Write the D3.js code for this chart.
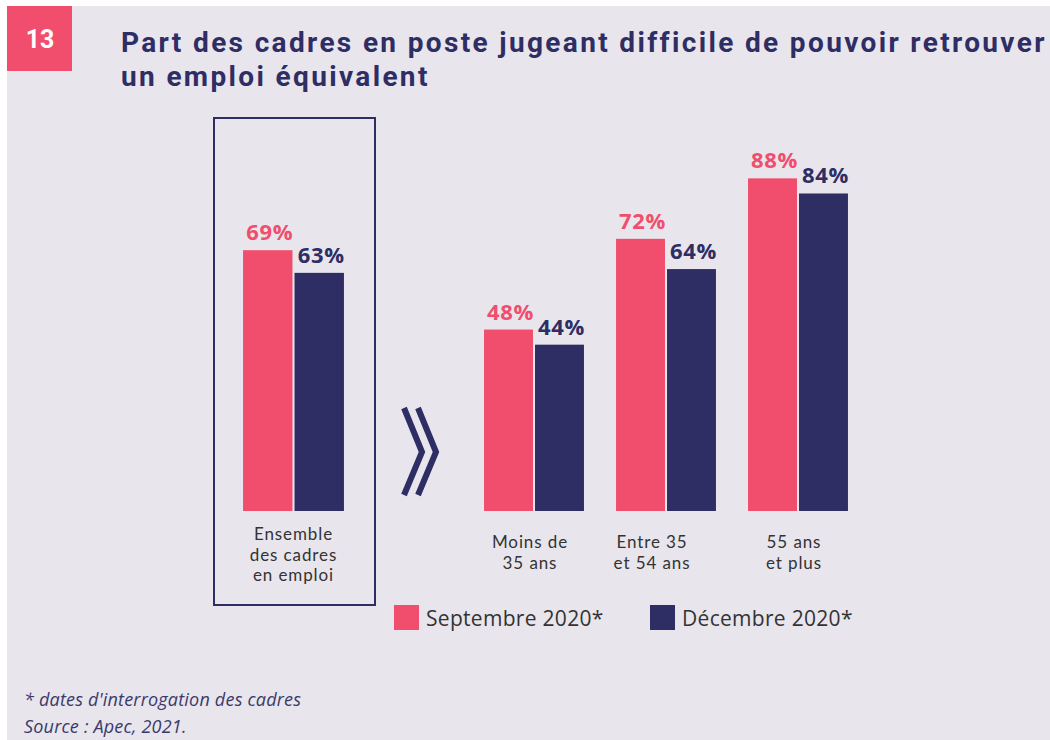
<!DOCTYPE html>
<html>
<head>
<meta charset="utf-8">
<script src="https://cdn.jsdelivr.net/npm/d3@7"></script>
<style>
  html, body { margin: 0; padding: 0; background: #fff; }
  svg { display: block; font-family: "Open Sans", Lato, sans-serif; }
</style>
</head>
<body>
<svg id="chart" width="1050" height="740"></svg>
<script>
// Data
const overallCategory = ['Ensemble des cadres en emploi'];
const ageCategories = ['Moins de 35 ans', 'Entre 35 et 54 ans', '55 ans et plus'];
const seriesNames = ['Septembre 2020*', 'Décembre 2020*'];
const september = [69, 48, 72, 88];
const december = [63, 44, 64, 84];
const categoryLines = [
    ['Ensemble', 'des cadres', 'en emploi'],
    ['Moins de', '35 ans'],
    ['Entre 35', 'et 54 ans'],
    ['55 ans', 'et plus']
];
const titleLines = ['Part des cadres en poste jugeant difficile de pouvoir retrouver', 'un emploi équivalent'];
const footnotes = ['* dates d\'interrogation des cadres', 'Source : Apec, 2021.'];

/**
 * Visual configs.
 */
const pink = '#f04e6c', navy = '#2e2d64', bg = '#e8e5ec', textGrey = '#333';
const baseline = 511, top100 = 133;

const svg = d3.select('#chart');

// Fits a text element to a target width by tweaking letter spacing
function fitWidth(sel, target) {
    const node = sel.node();
    const n = sel.text().length;
    const w = node.getComputedTextLength();
    sel.attr('letter-spacing', (target - w) / Math.max(1, n - 1));
}

// Background panel
svg.append('rect').attr('x', 7).attr('y', 6).attr('width', 1043).attr('height', 734).attr('fill', bg);

// Badge
svg.append('rect').attr('x', 7).attr('y', 6).attr('width', 65).attr('height', 65).attr('fill', pink);
svg.append('text').attr('x', 40).attr('y', 48).attr('text-anchor', 'middle')
    .attr('fill', '#fff').attr('font-size', 25).attr('font-weight', 700)
    .attr('font-family', 'Roboto, sans-serif').text('13');

// Title
const title = svg.append('g').attr('fill', navy).attr('font-family', 'Roboto, Lato, sans-serif')
    .attr('font-weight', 700).attr('font-size', 28);
const titleText = title.selectAll('text').data(titleLines).join('text')
    .attr('x', 121).attr('y', (d, i) => 52 + i * 34)
    .text(d => d);
const t0 = d3.select(titleText.nodes()[0]);
fitWidth(t0, 922);
d3.select(titleText.nodes()[1]).attr('letter-spacing', t0.attr('letter-spacing'));

/**
 * Scales.
 */
const yScale = d3.scaleLinear().domain([0, 100]).range([baseline, top100]);
const xOverall = d3.scaleBand().domain(overallCategory).range([241, 346]).padding(0);
const xAge = d3.scaleBand().domain(ageCategories).range([482, 850]).paddingInner(28 / 132).paddingOuter(0);
const xSub = d3.scaleBand().domain(seriesNames).padding(0.04);
const color = d3.scaleOrdinal().domain(seriesNames).range([pink, navy]);

const allCategories = overallCategory.concat(ageCategories);
const groupX = c => overallCategory.includes(c) ? xOverall(c) : xAge(c);
const groupW = c => overallCategory.includes(c) ? xOverall.bandwidth() : xAge.bandwidth();

const rows = [];
allCategories.forEach((c, i) => {
    rows.push({ cat: c, series: seriesNames[0], value: september[i] });
    rows.push({ cat: c, series: seriesNames[1], value: december[i] });
});

// Highlight box around overall group
svg.append('rect').attr('x', 214).attr('y', 118).attr('width', 161).attr('height', 487)
    .attr('fill', 'none').attr('stroke', navy).attr('stroke-width', 2);

// Bars
const bars = svg.append('g').attr('class', 'bars');
bars.selectAll('rect').data(rows).join('rect')
    .attr('x', d => { xSub.range([0, groupW(d.cat)]); return groupX(d.cat) + xSub(d.series); })
    .attr('width', d => { xSub.range([0, groupW(d.cat)]); return xSub.bandwidth(); })
    .attr('y', d => yScale(d.value))
    .attr('height', d => yScale(0) - yScale(d.value))
    .attr('fill', d => color(d.series));

// Value labels
bars.selectAll('text').data(rows).join('text')
    .attr('x', d => { xSub.range([0, groupW(d.cat)]); return groupX(d.cat) + xSub(d.series) + xSub.bandwidth() / 2 + 2; })
    .attr('y', d => yScale(d.value) - 10)
    .attr('text-anchor', 'middle')
    .attr('font-size', 22).attr('font-weight', 700)
    .attr('letter-spacing', 0.6)
    .attr('fill', d => color(d.series))
    .text(d => d.value + '%');

// Category labels (one text per line)
const labels = svg.append('g').attr('class', 'cat-labels')
    .attr('fill', textGrey).attr('font-family', 'Lato, sans-serif')
    .attr('font-size', 17).attr('letter-spacing', 0.9).attr('text-anchor', 'middle');
allCategories.forEach((c, i) => {
    const cx = groupX(c) + groupW(c) / 2 + (i === 0 ? 0 : i === 2 ? -14 : -4);
    const y0 = i === 0 ? 540 : 548;
    labels.selectAll(null).data(categoryLines[i]).join('text')
        .attr('x', cx).attr('y', (d, j) => y0 + j * 20.5)
        .text(d => d);
});

// Chevrons
const chevron = d3.line();
[0, 14].forEach(dx => {
    svg.append('path')
        .attr('d', chevron([[404 + dx, 408], [422 + dx, 452], [404 + dx, 495]]))
        .attr('fill', 'none').attr('stroke', navy).attr('stroke-width', 6);
});

// Legend
const legend = svg.append('g').attr('class', 'legend');
const legendX = [394, 650];
seriesNames.forEach((s, i) => {
    legend.append('rect').attr('x', legendX[i]).attr('y', 605).attr('width', 25).attr('height', 25)
        .attr('fill', color(s));
    legend.append('text').attr('x', legendX[i] + 32).attr('y', 626)
        .attr('font-size', 21).attr('letter-spacing', 0.3).attr('fill', textGrey).text(s);
});

// Footnotes
svg.append('g').attr('fill', '#3a3a6a').attr('font-size', 18).attr('letter-spacing', 0.2).attr('font-style', 'italic')
    .selectAll('text').data(footnotes).join('text')
    .attr('x', 24).attr('y', (d, i) => 706 + i * 27)
    .text(d => d);
</script>
</body>
</html>
